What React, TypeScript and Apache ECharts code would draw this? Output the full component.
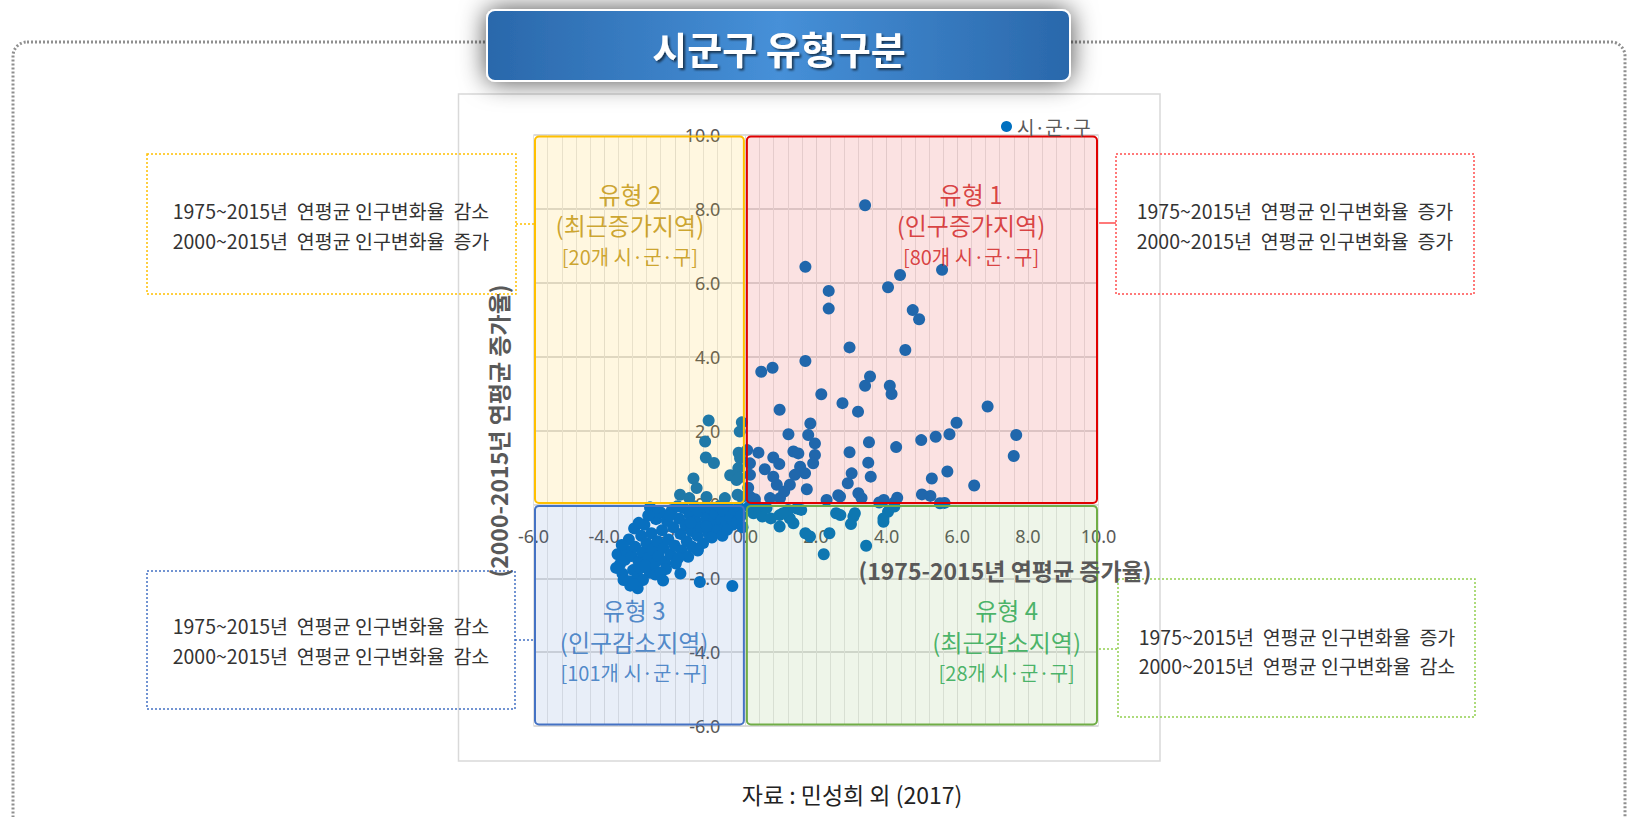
import React, { useEffect, useRef } from 'react';
import * as echarts from 'echarts';

// ---------- data ----------
const seriesName = '시·군·구';

// 유형 1 (x>0, y>0)
const type1Points = [
  [3.39, 8.10], [1.70, 6.43], [5.57, 6.35], [4.38, 6.21], [4.04, 5.88], [2.36, 5.78], [2.36, 5.30], [4.74, 5.26], [4.92, 5.01], [2.95, 4.25],
  [4.53, 4.18], [1.70, 3.88], [0.45, 3.59], [0.77, 3.70], [3.53, 3.46], [3.39, 3.21], [4.09, 3.21], [4.14, 2.99], [2.15, 2.98], [2.75, 2.74],
  [3.19, 2.51], [0.97, 2.56], [6.86, 2.65], [5.98, 2.21], [1.84, 2.19], [7.67, 1.88], [5.78, 1.90], [5.39, 1.83], [4.98, 1.74], [1.22, 1.90],
  [1.78, 1.88], [1.97, 1.65], [3.50, 1.68], [4.27, 1.55], [7.60, 1.31], [2.95, 1.41], [0.37, 1.40], [1.36, 1.43], [1.50, 1.38], [1.97, 1.34],
  [1.92, 1.11], [3.48, 1.13], [0.79, 1.27], [0.96, 1.09], [5.72, 0.89], [5.28, 0.70], [6.48, 0.51], [3.01, 0.84], [3.55, 0.75], [2.90, 0.57],
  [1.74, 0.41], [5.00, 0.27], [5.24, 0.23], [2.63, 0.25], [2.68, 0.21], [3.20, 0.30], [3.29, 0.17], [3.79, 0.05], [3.92, 0.12], [4.22, 0.05],
  [5.51, 0.03], [5.64, 0.04], [0.13, 1.11], [0.13, 0.80], [1.55, 1.02], [1.69, 0.84], [1.40, 0.80], [1.26, 0.53], [0.79, 0.75], [0.89, 0.53],
  [0.13, 0.21], [0.27, 0.14], [0.70, 0.17], [0.98, 0.17], [0.05, 1.47], [0.08, 0.45], [1.10, 0.35], [2.30, 0.12], [4.30, 0.18], [0.55, 0.95],
];

// 유형 2 (x<0, y>0)
const type2Points = [
  [-1.04, 2.27], [-1.14, 1.70], [-1.12, 1.27], [-0.89, 1.12], [-1.47, 0.70], [-1.38, 0.44], [-1.85, 0.26], [-1.59, 0.17], [-1.10, 0.20], [-0.58, 0.17],
  [-0.43, 0.79], [-0.25, 0.66], [-0.10, 2.22], [-0.16, 1.97], [-0.19, 1.40], [-0.15, 1.25], [-0.22, 0.26], [-0.10, 0.20], [-0.20, 0.98], [-0.18, 0.72],
];

// 유형 3 (x<0, y<0)
const type3Points = [
  [-3.62, -1.35], [-3.55, -1.62], [-3.48, -1.88], [-3.41, -1.50], [-3.66, -1.72], [-3.45, -2.05], [-3.38, -1.25],
  [-3.30, -0.95], [-3.22, -1.40], [-3.18, -1.78], [-3.12, -1.15], [-3.05, -1.95], [-3.02, -1.55], [-2.95, -0.85], [-2.92, -1.30], [-3.26, -2.20], [-2.98, -1.72],
  [-2.86, -0.55], [-2.80, -1.05], [-2.76, -1.45], [-2.71, -1.85], [-2.66, -0.78], [-2.62, -1.22], [-2.58, -1.62], [-2.53, -0.40], [-2.49, -1.00], [-2.46, -1.40], [-2.84, -1.65], [-2.55, -1.90],
  [-2.40, -0.22], [-2.36, -0.70], [-2.32, -1.18], [-2.28, -1.55], [-2.22, -0.45], [-2.18, -0.95], [-2.12, -1.35], [-2.08, -0.15], [-2.04, -0.62], [-2.00, -1.12], [-1.97, -1.60], [-2.25, -1.75],
  [-1.92, -0.05], [-1.88, -0.38], [-1.84, -0.80], [-1.80, -1.25], [-1.75, -0.10], [-1.70, -0.55], [-1.66, -1.00], [-1.62, -1.42], [-1.58, -0.28], [-1.53, -0.72], [-1.50, -1.15],
  [-1.45, -0.05], [-1.40, -0.45], [-1.36, -0.85], [-1.30, -0.20], [-1.26, -0.62], [-1.20, -1.05], [-1.15, -0.08], [-1.10, -0.38], [-1.05, -0.78],
  [-0.98, -0.12], [-0.92, -0.50], [-0.86, -0.25], [-0.80, -0.70], [-0.74, -0.05], [-0.68, -0.42], [-0.62, -0.18], [-0.56, -0.60],
  [-0.48, -0.10], [-0.42, -0.35], [-0.36, -0.55], [-0.30, -0.15], [-0.24, -0.48], [-0.18, -0.08], [-0.12, -0.30], [-0.08, -0.62],
  [-2.70, -0.08], [-2.60, -0.18],
  [-3.15, -0.65], [-2.90, -2.05], [-2.40, -1.85], [-1.90, -1.45], [-1.35, -1.25], [-0.95, -0.90], [-0.65, -0.85], [-2.15, -0.30], [-1.55, -0.50], [-3.50, -1.10],
  [-2.75, -0.30], [-1.10, -0.60],
  [-0.37, -2.21], [-1.29, -2.10], [-1.84, -1.87], [-2.33, -2.06], [-3.05, -2.27], [-3.02, -0.50], [-0.52, -0.69], [-1.35, -1.23], [-3.30, -2.08], [-3.17, -2.16],
];

// 유형 4 (x>0, y<0)
const type4Points = [
  [2.22, -1.35], [3.42, -1.12], [2.57, -0.24], [2.69, -0.29], [3.06, -0.33], [2.99, -0.53], [3.91, -0.38], [4.04, -0.20], [4.22, -0.06], [1.70, -0.78],
  [1.83, -0.87], [2.38, -0.78], [0.97, -0.60], [1.21, -0.15], [1.46, -0.11], [1.58, -0.15], [0.23, -0.24], [0.48, -0.33], [0.72, -0.38], [0.97, -0.29],
  [0.11, -0.06], [0.35, -0.06], [1.36, -0.51], [1.26, -0.38], [3.10, -0.24], [3.91, -0.47], [1.07, -0.24], [0.60, -0.10],
];

const axisMin = -6;
const axisMax = 10;
const axisStep = 2;

// zones: 유형1, 유형2, 유형3, 유형4
const zoneTitles = ['유형 1', '유형 2', '유형 3', '유형 4'];
const zoneNames = ['(인구증가지역)', '(최근증가지역)', '(인구감소지역)', '(최근감소지역)'];
const zoneCounts = [80, 20, 101, 28];
const zoneXRange = [[0, 10], [-6, 0], [-6, 0], [0, 10]];
const zoneYRange = [[0, 10], [0, 10], [-6, 0], [-6, 0]];
const zoneLabelAt = [[6.39, 7.57], [-3.27, 7.57], [-3.15, -3.70], [7.40, -3.70]];
const sideLine1 = [
  '1975~2015년  연평균 인구변화율  증가',
  '1975~2015년  연평균 인구변화율  감소',
  '1975~2015년  연평균 인구변화율  감소',
  '1975~2015년  연평균 인구변화율  증가',
];
const sideLine2 = [
  '2000~2015년  연평균 인구변화율  증가',
  '2000~2015년  연평균 인구변화율  증가',
  '2000~2015년  연평균 인구변화율  감소',
  '2000~2015년  연평균 인구변화율  감소',
];

const titleText = '시군구 유형구분';
const xAxisName = '(1975-2015년 연평균 증가율)';
const yAxisName = '(2000-2015년 연평균 증가율)';
const sourceText = '자료 : 민성희 외 (2017)';

// ---------- styles / layout ----------
const KR = "'Noto Sans CJK KR', 'Noto Sans', sans-serif";
const zoneStroke = ['#e00000', '#ffc000', '#4472c4', '#70ad47'];
const zoneFill = ['rgba(230,50,50,0.14)', 'rgba(255,190,0,0.12)', 'rgba(68,114,196,0.12)', 'rgba(112,173,71,0.12)'];
const zoneText = ['#d01818', '#bf9000', '#2a6ebd', '#1ea347'];
const sideStroke = ['#ff4d4d', '#ffc000', '#4472c4', '#92d050'];
// side boxes layout (pixels): [x, y, w, h, textCenterX, line1Y, line2Y, connectorY, connX0, connX1]
const sideBoxes = [
  [1116, 154, 358, 140, 1295, 210, 240, 223, 1099, 1116],
  [147, 154, 369, 140, 331, 210, 240, 224, 516, 534],
  [147, 571, 368, 138, 331, 625, 655, 640, 515, 534],
  [1118, 579, 357, 138, 1297, 636, 665, 649, 1099, 1118],
];
const GRID = { left: 533.5, top: 135, width: 565, height: 591 };

export default function App() {
  const ref = useRef<HTMLDivElement>(null);

  useEffect(() => {
    if (!ref.current) return;
    const chart = echarts.init(ref.current, null, { renderer: 'svg' });

    const allPoints = [...type1Points, ...type2Points, ...type3Points, ...type4Points];
    const zoneData = zoneXRange.map((xr, i) => [xr[0], xr[1], zoneYRange[i][0], zoneYRange[i][1]]);

    // axes cross at 0: offsets move the axes from the grid edge to the zero line
    const span = axisMax - axisMin;
    const xAxisOffset = -GRID.height * (0 - axisMin) / span;
    const yAxisOffset = -GRID.width * (0 - axisMin) / span;

    const labelData = zoneLabelAt.map((p, i) => ({
      value: p,
      label: {
        show: true,
        position: 'inside',
        formatter: `{t|${zoneTitles[i]}}\n{n|${zoneNames[i]}}\n{c|[${zoneCounts[i]}개 ${seriesName}]}`,
        rich: {
          t: { fontSize: 24, color: zoneText[i], lineHeight: 31, fontFamily: KR, align: 'center' },
          n: { fontSize: 24, color: zoneText[i], lineHeight: 32, fontFamily: KR, align: 'center' },
          c: { fontSize: 20, color: zoneText[i], lineHeight: 31, fontFamily: KR, align: 'center' },
        },
      },
    }));

    const graphics: any[] = [];
    graphics.push({
      type: 'rect', z: -10,
      shape: { x: 13, y: 42, width: 1612, height: 820, r: 14 },
      style: { fill: 'none', stroke: '#8f8f8f', lineWidth: 3, lineDash: [2, 2] },
    });
    graphics.push({
      type: 'rect', z: -9,
      shape: { x: 458.5, y: 94, width: 701.5, height: 667 },
      style: { fill: '#ffffff', stroke: '#d9d9d9', lineWidth: 1.5 },
    });
    graphics.push({
      type: 'rect', z: -8,
      shape: { x: 487, y: 10, width: 583, height: 71, r: 8 },
      style: {
        fill: new echarts.graphic.LinearGradient(0, 0, 1, 0, [
          { offset: 0, color: '#2a68ab' },
          { offset: 0.5, color: '#4690d8' },
          { offset: 1, color: '#2a68ab' },
        ]),
        stroke: '#ffffff', lineWidth: 2,
        shadowBlur: 26, shadowColor: 'rgba(0,0,0,0.7)',
      },
    });
    graphics.push({
      type: 'text', z: -7,
      x: 779, y: 47,
      style: {
        text: titleText, fill: '#ffffff', fontSize: 38, fontWeight: 'bold', fontFamily: KR,
        align: 'center', verticalAlign: 'middle',
        textShadowColor: 'rgba(0,0,0,0.6)', textShadowOffsetX: 2, textShadowOffsetY: 2, textShadowBlur: 2,
      },
    });
    sideBoxes.forEach((b, i) => {
      graphics.push({
        type: 'rect', z: 5,
        shape: { x: b[0], y: b[1], width: b[2], height: b[3] },
        style: { fill: 'none', stroke: sideStroke[i], lineWidth: 1.5, lineDash: [2, 2] },
      });
      graphics.push({
        type: 'line', z: 5,
        shape: { x1: b[8], y1: b[7], x2: b[9], y2: b[7] },
        style: { stroke: sideStroke[i], lineWidth: 1.5, lineDash: i === 0 ? null : [2, 2] },
      });
      graphics.push({
        type: 'text', z: 5, x: b[4], y: b[5],
        style: { text: sideLine1[i], fill: '#333333', fontSize: 19.5, fontFamily: KR, align: 'center', verticalAlign: 'middle' },
      });
      graphics.push({
        type: 'text', z: 5, x: b[4], y: b[6],
        style: { text: sideLine2[i], fill: '#333333', fontSize: 19.5, fontFamily: KR, align: 'center', verticalAlign: 'middle' },
      });
    });
    graphics.push({
      type: 'text', z: 20, x: 1005, y: 570,
      style: { text: xAxisName, fill: '#595959', fontSize: 23, fontWeight: 'bold', fontFamily: KR, align: 'center', verticalAlign: 'middle' },
    });
    graphics.push({
      type: 'text', z: 20, x: 497.5, y: 431, rotation: Math.PI / 2,
      style: { text: yAxisName, fill: '#595959', fontSize: 23, fontWeight: 'bold', fontFamily: KR, align: 'center', verticalAlign: 'middle' },
    });
    graphics.push({
      type: 'text', z: 5, x: 852, y: 794,
      style: { text: sourceText, fill: '#222222', fontSize: 23, fontFamily: KR, align: 'center', verticalAlign: 'middle' },
    });

    const axisLabelFmt = (v: number) => v.toFixed(1);

    chart.setOption({
      animation: false,
      backgroundColor: '#ffffff',
      grid: { ...GRID, containLabel: false },
      legend: {
        data: [{ name: seriesName, icon: 'circle' }],
        left: 996, top: 112, itemWidth: 11, itemHeight: 11,
        textStyle: { fontSize: 19, color: '#595959', fontFamily: KR },
      },
      xAxis: {
        type: 'value', min: axisMin, max: axisMax, interval: axisStep,
        position: 'bottom', offset: xAxisOffset,
        axisLine: { show: true, onZero: false, lineStyle: { color: '#d9d9d9', width: 1 } },
        axisTick: { show: false },
        axisLabel: { formatter: axisLabelFmt, color: '#595959', fontSize: 18, margin: 23, fontFamily: "'Noto Sans', sans-serif" },
        splitLine: { show: true, lineStyle: { color: '#e2e2e2', width: 1 } },
        minorTick: { show: false, splitNumber: 5 },
        minorSplitLine: { show: true, lineStyle: { color: '#e6e6e6', width: 1 } },
      },
      yAxis: {
        type: 'value', min: axisMin, max: axisMax, interval: axisStep,
        position: 'left', offset: yAxisOffset,
        axisLine: { show: true, onZero: false, lineStyle: { color: '#d9d9d9', width: 1 } },
        axisTick: { show: false },
        axisLabel: { formatter: axisLabelFmt, color: '#595959', fontSize: 18, margin: 25, fontFamily: "'Noto Sans', sans-serif" },
        splitLine: { show: true, lineStyle: { color: '#cfcfcf', width: 1.5 } },
      },
      graphic: graphics,
      series: [
        {
          name: seriesName, type: 'scatter', z: 2,
          symbolSize: 12,
          itemStyle: { color: '#0070c0', opacity: 1 },
          data: allPoints,
        },
        {
          name: 'zones', type: 'custom', z: 3, silent: true,
          encode: { x: [0, 1], y: [2, 3] },
          data: zoneData,
          clip: false,
          renderItem: (params: any, api: any) => {
            const i = params.dataIndex;
            const tl = api.coord([api.value(0), api.value(3)]);
            const br = api.coord([api.value(1), api.value(2)]);
            const inset = 1.5;
            return {
              type: 'rect',
              shape: { x: tl[0] + inset, y: tl[1] + inset, width: br[0] - tl[0] - 2 * inset, height: br[1] - tl[1] - 2 * inset, r: 4 },
              style: { fill: zoneFill[i], stroke: zoneStroke[i], lineWidth: 2 },
            };
          },
        },
        {
          name: 'zoneLabels', type: 'scatter', z: 4, silent: true,
          symbolSize: 1,
          itemStyle: { color: 'rgba(0,0,0,0)' },
          data: labelData,
        },
      ],
    });

    return () => chart.dispose();
  }, []);

  return <div ref={ref} style={{ position: 'fixed', left: 0, top: 0, width: 1634, height: 817 }} />;
}
